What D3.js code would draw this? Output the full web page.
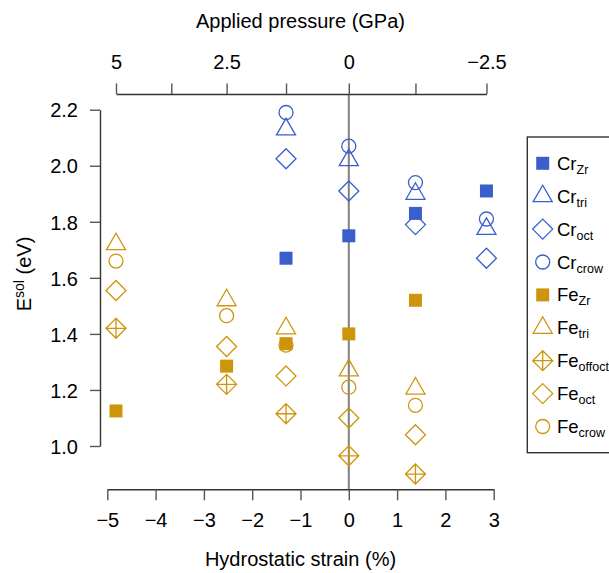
<!DOCTYPE html>
<html>
<head>
<meta charset="utf-8">
<script src="https://cdn.jsdelivr.net/npm/d3@7"></script>
<style>
  body { margin: 0; background: #fff; }
  text { font-family: "Liberation Sans", Arial, sans-serif; fill: #000; }
</style>
</head>
<body>
<script>
// data
var strain = [-4.82, -2.53, -1.30, 0, 1.38, 2.85];
var pressure = [5, 2.5, 1.25, 0, -1.25, -2.5];
var pressureTicks = [5, 3.75, 2.5, 1.25, 0, -1.25, -2.5];
var pressureLabels = ["5", "", "2.5", "", "0", "", "\u22122.5"];
var strainTicks = [-5, -4, -3, -2, -1, 0, 1, 2, 3];
var energyTicks = [1.0, 1.2, 1.4, 1.6, 1.8, 2.0, 2.2];

var crZr     = [null, null, 1.67, 1.75, 1.83, 1.91];
var crTri    = [null, null, 2.13, 2.02, 1.90, 1.775];
var crOct    = [null, null, 2.025, 1.91, 1.79, 1.67];
var crCrow   = [null, null, 2.19, 2.07, 1.94, 1.81];
var feZr     = [1.125, 1.285, 1.365, 1.40, 1.52, null];
var feTri    = [1.72, 1.52, 1.42, 1.27, 1.205, null];
var feOffoct = [1.42, 1.22, 1.115, 0.965, 0.90, null];
var feOct    = [1.555, 1.355, 1.25, 1.10, 1.04, null];
var feCrow   = [1.66, 1.465, 1.36, 1.21, 1.145, null];

var blue = "#3a5fcd";
var gold = "#cd950c";

var series = [
  {el: "Cr", sub: "Zr", shape: "square", color: blue, values: crZr},
  {el: "Cr", sub: "tri", shape: "triangle", color: blue, values: crTri},
  {el: "Cr", sub: "oct", shape: "diamond", color: blue, values: crOct},
  {el: "Cr", sub: "crow", shape: "circle", color: blue, values: crCrow},
  {el: "Fe", sub: "Zr", shape: "square", color: gold, values: feZr},
  {el: "Fe", sub: "tri", shape: "triangle", color: gold, values: feTri},
  {el: "Fe", sub: "offoct", shape: "diamondplus", color: gold, values: feOffoct},
  {el: "Fe", sub: "oct", shape: "diamond", color: gold, values: feOct},
  {el: "Fe", sub: "crow", shape: "circle", color: gold, values: feCrow}
];

var width = 609, height = 573;

var svg = d3.select("body").append("svg")
    .attr("width", width)
    .attr("height", height);

var x = d3.scaleLinear().domain([-5, 3]).range([107.3, 493.7]);
var y = d3.scaleLinear().domain([1.0, 2.2]).range([446, 109.7]);
// top axis: pressure mapped onto strain positions
var xTop = d3.scaleLinear()
    .domain(pressure)
    .range(strain.map(function(s) { return x(s); }));

// marker shapes
function shapePath(shape) {
  if (shape === "square") return "M-6.5,-6.5H6.5V6.5H-6.5Z";
  if (shape === "triangle") return "M0,-11L9.5,5.5L-9.5,5.5Z";
  if (shape === "diamond") return "M0,-10L10,0L0,10L-10,0Z";
  if (shape === "diamondplus") return "M0,-10L10,0L0,10L-10,0ZM0,-10V10M-10,0H10";
  return d3.arc()({innerRadius: 0, outerRadius: 7, startAngle: 0, endAngle: 2 * Math.PI});
}
function drawMarker(g, s) {
  g.append("path")
    .attr("d", shapePath(s.shape))
    .attr("fill", s.shape === "square" ? s.color : "none")
    .attr("stroke", s.shape === "square" ? "none" : s.color)
    .attr("stroke-width", 1.3);
}

// zero strain line
svg.append("line")
    .attr("x1", x(0)).attr("x2", x(0))
    .attr("y1", 94).attr("y2", 489.3)
    .attr("stroke", "#808080")
    .attr("stroke-width", 2);

// axes
var fontSize = "20px";

var leftAxis = svg.append("g")
    .attr("transform", "translate(100,0)")
    .call(d3.axisLeft(y).tickValues(energyTicks).tickFormat(d3.format(".1f"))
      .tickSizeInner(10).tickSizeOuter(0).tickPadding(12));

var bottomAxis = svg.append("g")
    .attr("transform", "translate(0,489.3)")
    .call(d3.axisBottom(x).tickValues(strainTicks).tickFormat(d3.format("d"))
      .tickSizeInner(11).tickSizeOuter(0));

var topAxis = svg.append("g")
    .attr("transform", "translate(0,94)")
    .call(d3.axisTop(xTop).tickValues(pressureTicks)
      .tickFormat(function(d, i) { return pressureLabels[i]; })
      .tickSizeInner(10.5).tickSizeOuter(0));

[leftAxis, bottomAxis, topAxis].forEach(function(g) {
  g.selectAll("text").style("font-size", fontSize).attr("fill", "#000");
  g.selectAll("line").attr("stroke", "#555").attr("stroke-width", 1.4);
  g.select(".domain").attr("stroke", "#333").attr("stroke-width", 1.4);
});
// put tick label baselines where the reference has them
bottomAxis.selectAll(".tick text").attr("y", 37.4).attr("dy", 0);
topAxis.selectAll(".tick text").attr("y", -24.7).attr("dy", 0);
leftAxis.selectAll(".tick text").attr("dy", "0.36em");

// axis titles
svg.append("text")
    .attr("x", 300.5).attr("y", 28)
    .attr("text-anchor", "middle")
    .style("font-size", fontSize)
    .text("Applied pressure (GPa)");

svg.append("text")
    .attr("x", 300.5).attr("y", 566)
    .attr("text-anchor", "middle")
    .style("font-size", fontSize)
    .text("Hydrostatic strain (%)");

var yTitle = svg.append("text")
    .attr("transform", "translate(31,274) rotate(-90)")
    .attr("text-anchor", "middle")
    .style("font-size", fontSize);
yTitle.append("tspan").text("E");
yTitle.append("tspan").attr("dy", -7.5).style("font-size", "14px").text("sol");
yTitle.append("tspan").attr("dy", 7.5).text(" (eV)");

// points
series.forEach(function(s) {
  var pts = s.values.map(function(v, i) { return {x: strain[i], y: v}; })
    .filter(function(d) { return d.y !== null; });
  svg.append("g").selectAll("g")
    .data(pts)
    .enter().append("g")
    .attr("transform", function(d) { return "translate(" + x(d.x) + "," + y(d.y) + ")"; })
    .each(function() { drawMarker(d3.select(this), s); });
});

// legend
var legend = svg.append("g");
legend.append("rect")
    .attr("x", 527.3).attr("y", 137)
    .attr("width", 100).attr("height", 315.7)
    .attr("fill", "#fff")
    .attr("stroke", "#333")
    .attr("stroke-width", 1.4);

var item = legend.selectAll("g.item")
    .data(series)
    .enter().append("g")
    .attr("class", "item")
    .attr("transform", function(d, i) { return "translate(0," + (163.3 + 32.9 * i) + ")"; });

item.each(function(s) {
  var g = d3.select(this).append("g").attr("transform", "translate(542.7,0)");
  drawMarker(g, s);
});

var label = item.append("text")
    .attr("x", 557)
    .attr("y", 6.5)
    .style("font-size", "18.5px");
label.append("tspan").text(function(d) { return d.el; });
label.append("tspan").attr("dy", 4).style("font-size", "12.5px").text(function(d) { return d.sub; });
</script>
</body>
</html>
